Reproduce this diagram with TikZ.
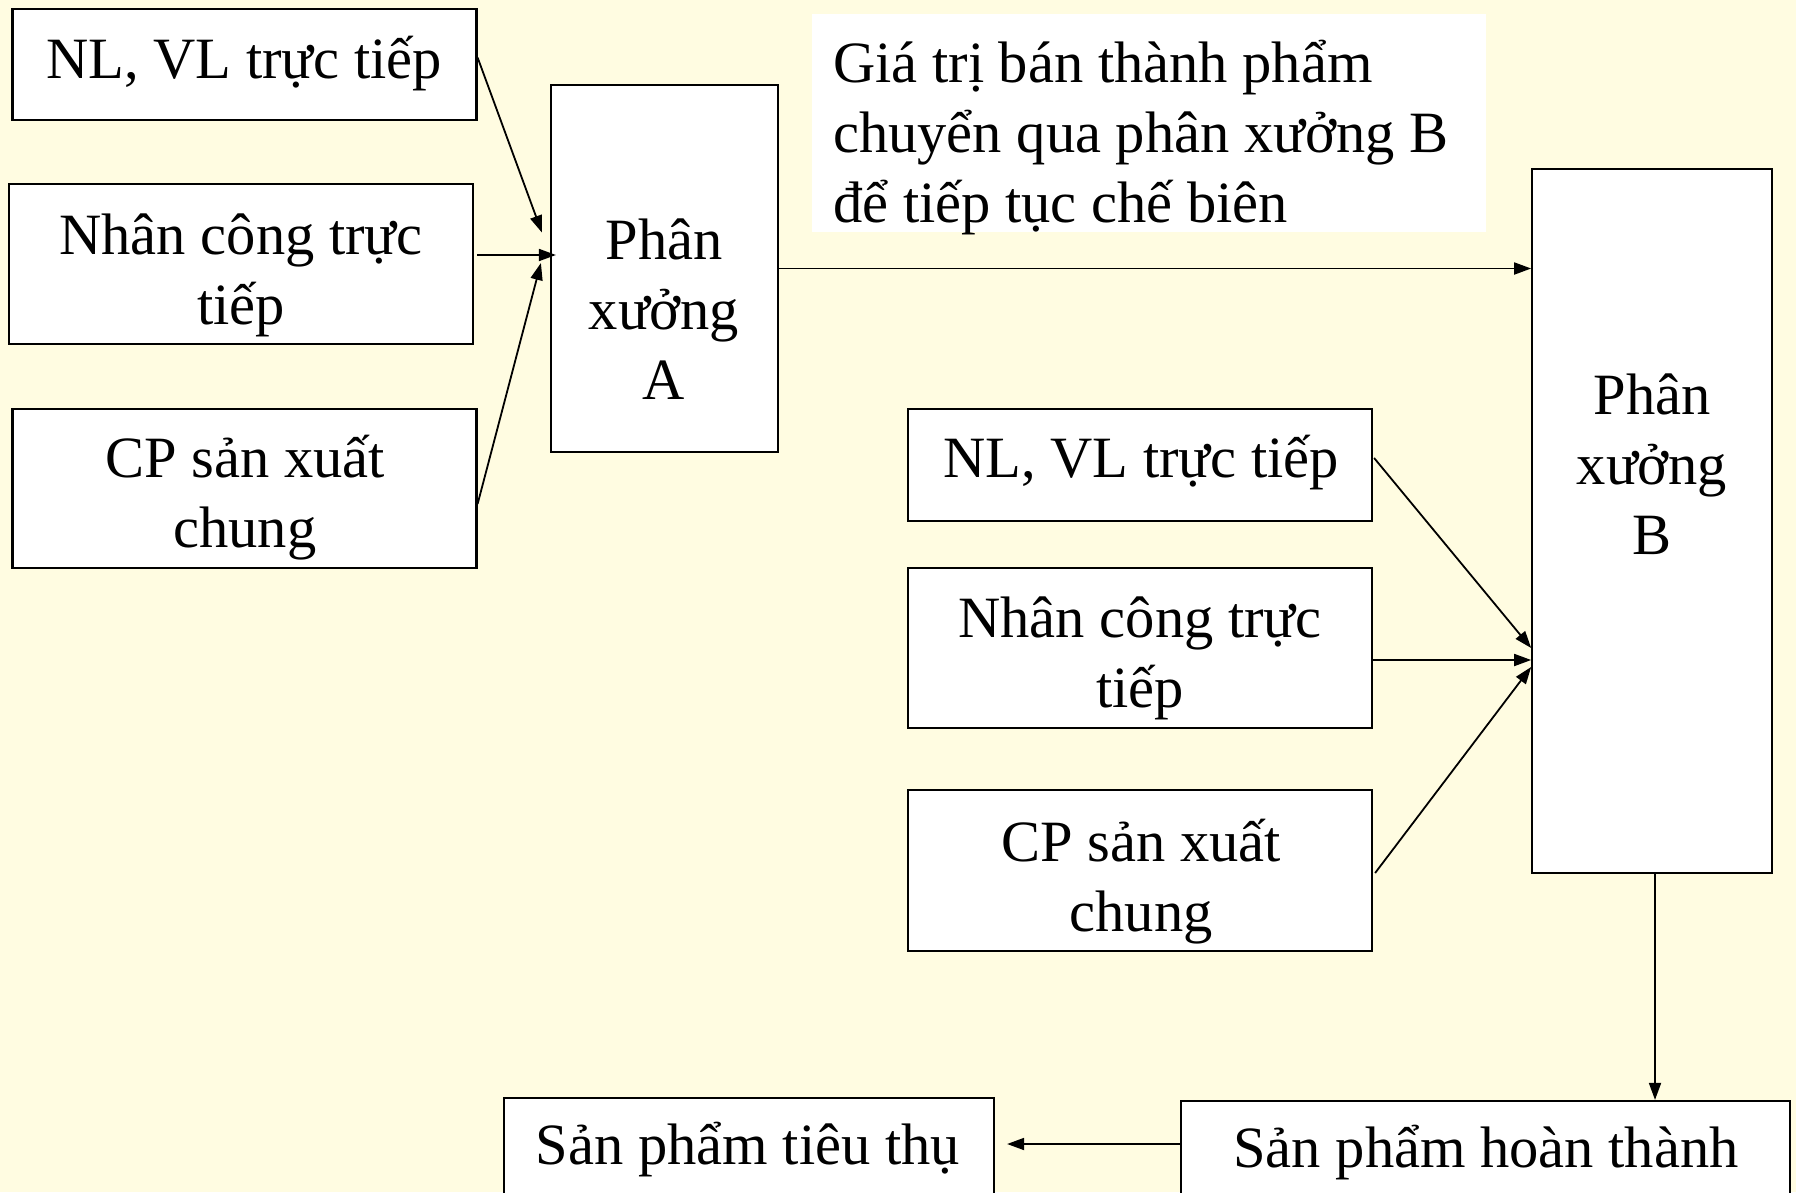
\documentclass[tikz,border=0pt]{standalone}
\usepackage{fontspec}
\setmainfont{Liberation Serif}
\usetikzlibrary{arrows.meta,calc}
\definecolor{bgcream}{RGB}{255,252,225}
\tikzset{
  box/.style={draw=black, line width=2.2pt, fill=white, rectangle, inner sep=0pt},
  lbl/.style={anchor=base, align=center, inner sep=0pt, font=\fontsize{58.5}{70}\selectfont},
  conn/.style={line width=1.8pt, -{Triangle[length=17pt,width=12pt]}}
}
\begin{document}
\begin{tikzpicture}[x=1pt,y=-1pt]
\clip (0,0) rectangle (1796,1192);
\fill[bgcream] (0,0) rectangle (1796,1192);
% boxes
\node[box, minimum width=464pt, minimum height=111pt] (nl1) at (244.5,64.5) {};
\node[box, minimum width=464pt, minimum height=160pt] (nc1) at (241,264) {};
\node[box, minimum width=464pt, minimum height=159pt] (cp1) at (244.5,488.5) {};
\node[box, minimum width=227pt, minimum height=367pt] (pxa) at (664.5,268.5) {};
\node[fill=white, inner sep=0pt, minimum width=674pt, minimum height=218pt] (note) at (1149,123) {};
\node[box, minimum width=239.5pt, minimum height=703.5pt] (pxb) at (1652,521) {};
\node[box, minimum width=464pt, minimum height=112pt] (nl2) at (1140,465) {};
\node[box, minimum width=464pt, minimum height=160pt] (nc2) at (1140,648) {};
\node[box, minimum width=464pt, minimum height=161pt] (cp2) at (1140,870.5) {};
\node[box, minimum width=490pt, minimum height=152pt] (spt) at (749,1174) {};
\node[box, minimum width=609pt, minimum height=149pt] (sph) at (1485.5,1175.5) {};
% labels (base anchor = baseline of last line)
\node[lbl] (tnl1) at (244,78) {NL, VL trực tiếp};
\node[lbl] (tnc1) at (241,324) {Nhân công trực\\tiếp};
\node[lbl] (tcp1) at (245,547) {CP sản xuất\\chung};
\node[lbl] (tpxa) at (664,399) {Phân\\xưởng\\A};
\node[lbl, anchor=base west, align=left] (tnote) at (833,222) {Giá trị bán thành phẩm\\chuyển qua phân xưởng B\\để tiếp tục chế biên};
\node[lbl] (tpxb) at (1652,554) {Phân\\xưởng\\B};
\node[lbl] (tnl2) at (1141,477) {NL, VL trực tiếp};
\node[lbl] (tnc2) at (1140,707.5) {Nhân công trực\\tiếp};
\node[lbl] (tcp2) at (1141,931) {CP sản xuất\\chung};
\node[lbl] (tspt) at (748,1164) {Sản phẩm tiêu thụ};
\node[lbl] (tsph) at (1486,1167) {Sản phẩm hoàn thành};
% connectors
\draw[conn] ($(nl1.east)+(0,-7)$) -- ($(pxa.west)+(-8,-36)$);
\draw[conn] ($(nc1.east)+(3,-9)$) -- ($(pxa.west)+(6,-13.5)$);
\draw[conn] ($(cp1.east)+(0,15.5)$) -- ($(pxa.west)+(-9,-5.5)$);
\draw[conn] (pxa.east) -- (pxa.east -| pxb.west);
\draw[conn] ($(nl2.east)+(1,-7)$) -- ($(pxb.west)+(0,127)$);
\draw[conn] ($(nc2.east)+(0,12)$) -- ($(pxb.west)+(0,139)$);
\draw[conn] ($(cp2.east)+(2,2.5)$) -- ($(pxb.west)+(0,146)$);
\coordinate (bdown) at ($(pxb.south)+(3,0)$);
\draw[conn] (bdown) -- (bdown |- sph.north);
\draw[conn] ($(sph.west)+(0,-31.5)$) -- ($(spt.east)+(12,-30)$);
\end{tikzpicture}
\end{document}
